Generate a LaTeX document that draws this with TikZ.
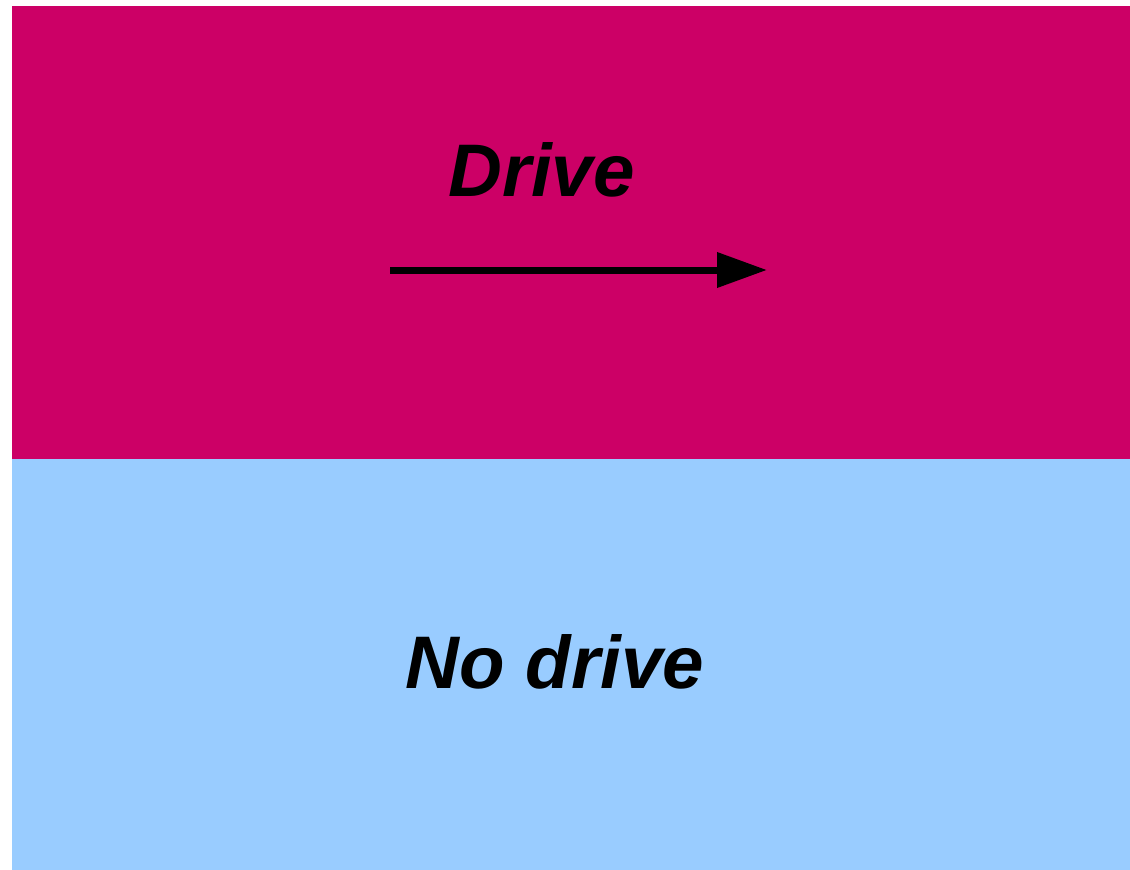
\documentclass[tikz,border=0pt]{standalone}
\usepackage{fontspec}
\setmainfont{Liberation Sans}
\usetikzlibrary{arrows.meta}
\definecolor{drivecol}{HTML}{CC0066}
\definecolor{nodrivecol}{HTML}{99CCFF}
\begin{document}
\begin{tikzpicture}[x=1pt,y=-1pt,
  lbl/.style={font=\fontsize{74.5}{80}\selectfont\bfseries\itshape, text=black, inner sep=0pt, anchor=base},
  arr/.style={line width=7pt, -{Triangle[length=50pt,width=34pt]}}]
\useasboundingbox (0,0) rectangle (1130,870);
\fill[white] (0,0) rectangle (1130,870);
\fill[drivecol] (12,6) rectangle (1130,459);
\fill[nodrivecol] (12,459) rectangle (1130,870);
\node[lbl] (drive) at (541.5,196) {Drive};
\node[lbl] (nodrive) at (555,688) {No drive};
\coordinate (a0) at (390,270);
\coordinate (a1) at (767,270);
\draw[arr] (a0) -- (a1);
\end{tikzpicture}
\end{document}
